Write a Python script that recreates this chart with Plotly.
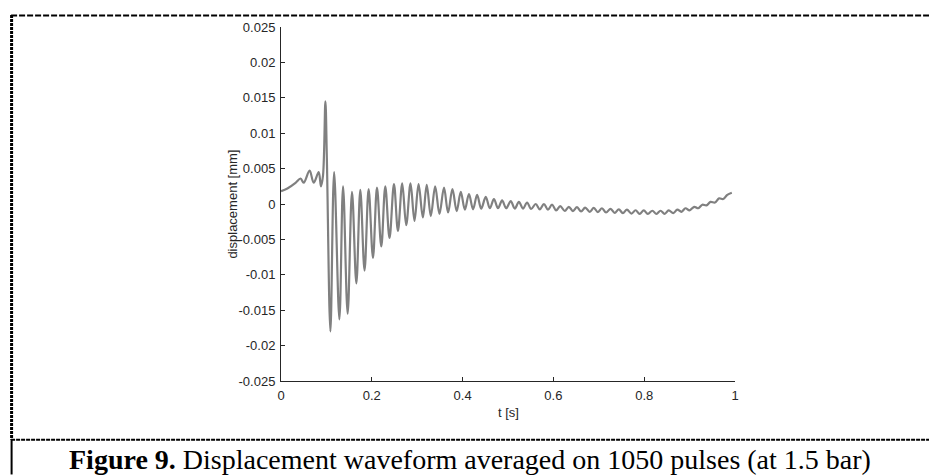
import plotly.graph_objects as go

# time [s] and displacement [mm] (peaks / troughs / bends)
t_s = [0.000, 0.014, 0.032, 0.043, 0.050, 0.063, 0.072, 0.083, 0.088, 0.0925,
       0.0978, 0.101, 0.1088, 0.117, 0.1286, 0.1367, 0.1468, 0.1564, 0.166, 0.1747,
       0.184, 0.193, 0.2026, 0.2114, 0.2209, 0.2297, 0.239, 0.2488, 0.2576, 0.267,
       0.2758, 0.2853, 0.294, 0.303, 0.3125, 0.321, 0.330, 0.3396, 0.349, 0.359,
       0.368, 0.3776, 0.387, 0.396, 0.405, 0.414, 0.423, 0.432, 0.441, 0.451,
       0.460, 0.469, 0.478, 0.487, 0.496, 0.506, 0.515, 0.524, 0.533, 0.542,
       0.551, 0.561, 0.570, 0.579, 0.588, 0.597, 0.606, 0.615, 0.625, 0.634,
       0.643, 0.652, 0.661, 0.670, 0.680, 0.689, 0.698, 0.707, 0.716, 0.726,
       0.735, 0.744, 0.753, 0.762, 0.772, 0.781, 0.790, 0.799, 0.808, 0.818,
       0.827, 0.836, 0.845, 0.854, 0.864, 0.873, 0.882, 0.891, 0.900, 0.910,
       0.919, 0.928, 0.937, 0.946, 0.956, 0.965, 0.974, 0.983, 0.993]
disp_mm = [0.0018, 0.0022, 0.0030, 0.0036, 0.0030, 0.0047, 0.0030, 0.0045, 0.0025, 0.0040,
           0.0145, 0.0065, -0.0180, 0.0045, -0.0163, 0.0025, -0.0155, 0.0017, -0.0112, 0.0020,
           -0.0094, 0.0021, -0.0076, 0.0023, -0.0060, 0.0025, -0.0048, 0.0028, -0.0038, 0.0029,
           -0.0030, 0.0029, -0.0024, 0.0028, -0.0019, 0.0027, -0.0017, 0.0025, -0.0014, 0.0023,
           -0.0012, 0.0021, -0.0010, 0.0017, -0.0008, 0.0014, -0.00075, 0.0013, -0.00066, 0.0010,
           -0.0006, 0.0007, -0.0006, 0.0005, -0.0006, 0.0004, -0.00065, 0.0003, -0.00065, 0.0002,
           -0.0007, 0.0000, -0.00075, 0.0000, -0.0008, -0.0001, -0.0009, -0.0003, -0.00098, -0.0004,
           -0.0010, -0.00045, -0.00105, -0.0005, -0.0011, -0.00055, -0.00115, -0.0006, -0.0012, -0.00068,
           -0.00125, -0.00075, -0.0013, -0.0008, -0.00135, -0.00088, -0.0014, -0.0009, -0.0014, -0.00095,
           -0.0014, -0.00095, -0.0014, -0.0009, -0.0013, -0.0008, -0.0011, -0.0006, -0.0009, -0.0004,
           -0.0006, -0.0001, -0.0002, 0.0003, 0.0002, 0.0008, 0.0007, 0.0013, 0.0016]

x_ticks = [0, 0.2, 0.4, 0.6, 0.8, 1]
x_tick_text = ["0", "0.2", "0.4", "0.6", "0.8", "1"]
y_ticks = [0.025, 0.02, 0.015, 0.01, 0.005, 0, -0.005, -0.01, -0.015, -0.02, -0.025]
y_tick_text = ["0.025", "0.02", "0.015", "0.01", "0.005", "0", "-0.005", "-0.01",
               "-0.015", "-0.02", "-0.025"]

x_title = "t [s]"
y_title = "displacement [mm]"
caption_bold = "Figure 9."
caption_rest = " Displacement waveform averaged on 1050 pulses (at 1.5 bar)"

AX = "rgb(38,38,38)"
OFF = 8  # the page body margin shifts the figure by 8 px
W, H = 937 - OFF, 475 - OFF
L, R, T, B = 280.5 - OFF, 735.5 - OFF, 25 - OFF, 381 - OFF  # plot area in pixels


def px(xp):
    return (xp - OFF - L) / (R - L)


def py(yp):
    return (B - (yp - OFF)) / (B - T)


fig = go.Figure()
fig.add_trace(go.Scatter(
    x=t_s, y=disp_mm, mode="lines",
    line=dict(color="rgb(128,128,128)", width=2.2, shape="spline", smoothing=1.0),
    showlegend=False, hoverinfo="skip"))

fig.update_layout(
    width=W, height=H,
    margin=dict(l=L, r=W - R, t=T, b=H - B, pad=0),
    paper_bgcolor="white", plot_bgcolor="white",
    font=dict(family="Liberation Sans, Arial, sans-serif", size=13, color=AX),
    xaxis=dict(range=[0, 1], tickvals=x_ticks, ticktext=x_tick_text,
               showgrid=False, zeroline=False, showline=True, linecolor=AX, linewidth=1,
               ticks="inside", ticklen=4, tickcolor=AX, tickwidth=1, mirror=False,
               ticklabelstandoff=2, tickfont=dict(size=13, color=AX)),
    yaxis=dict(range=[-0.025, 0.025], tickvals=y_ticks, ticktext=y_tick_text,
               showgrid=False, zeroline=False, showline=True, linecolor=AX, linewidth=1,
               ticks="inside", ticklen=4, tickcolor=AX, tickwidth=1, mirror=False,
               ticklabelstandoff=2, tickfont=dict(size=13, color=AX)),
)

annotations = [
    dict(text=x_title, x=px(508), y=py(413), xref="paper", yref="paper",
         showarrow=False, xanchor="center", yanchor="middle",
         font=dict(size=13, color=AX)),
    dict(text=y_title, x=px(231), y=py(203), xref="paper", yref="paper",
         showarrow=False, xanchor="center", yanchor="middle", textangle=-90,
         font=dict(size=13, color=AX)),
    dict(text="<b>" + caption_bold + "</b>" + caption_rest, x=px(470), y=py(460),
         xref="paper", yref="paper", showarrow=False, xanchor="center", yanchor="middle",
         font=dict(family="Liberation Serif, Times New Roman, serif", size=28, color="black")),
]
fig.update_layout(annotations=annotations)

shapes = [
    # outer dashed frame (top and left)
    dict(type="line", xref="paper", yref="paper", x0=px(10), x1=px(937), y0=py(13.5), y1=py(13.5),
         line=dict(color="black", width=2, dash="6px,2px")),
    dict(type="line", xref="paper", yref="paper", x0=px(10.5), x1=px(10.5), y0=py(13), y1=py(440),
         line=dict(color="black", width=3, dash="3px,1px")),
    # caption separator
    dict(type="line", xref="paper", yref="paper", x0=px(10), x1=px(937), y0=py(440), y1=py(440),
         line=dict(color="black", width=2, dash="4px,1px")),
    # caption box left edge
    dict(type="line", xref="paper", yref="paper", x0=px(10.5), x1=px(10.5), y0=py(440), y1=py(475),
         line=dict(color="black", width=2)),
]
fig.update_layout(shapes=shapes)

fig.write_html("out.html")
